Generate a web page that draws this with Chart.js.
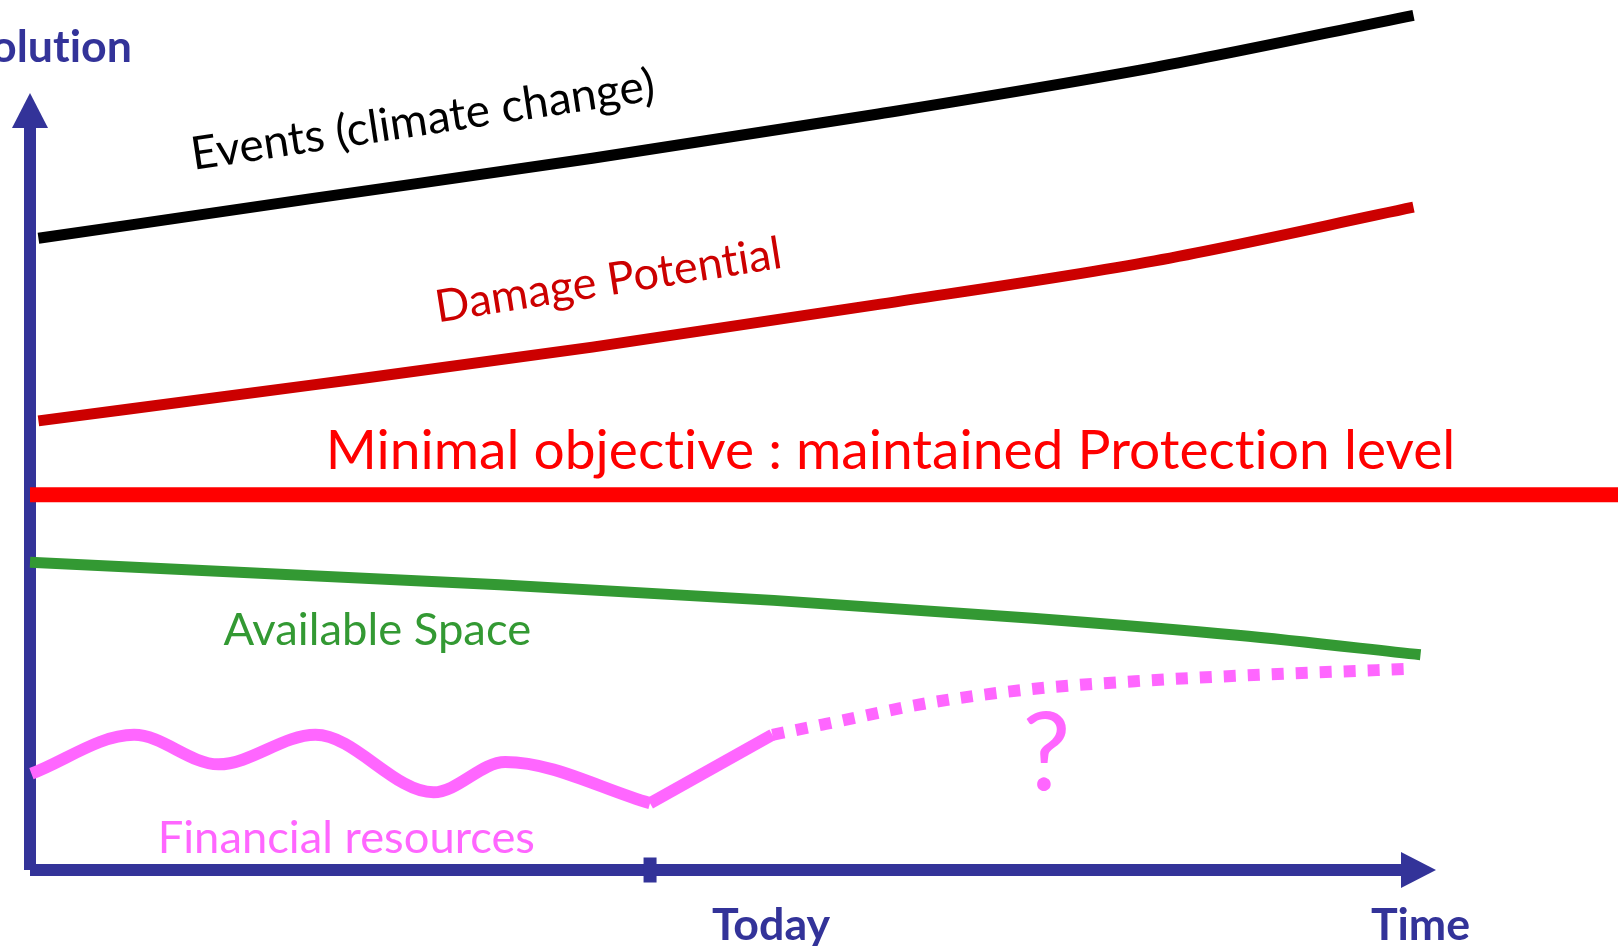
<!DOCTYPE html>
<html>
<head>
<meta charset="utf-8">
<script src="https://cdn.jsdelivr.net/npm/chart.js@4.4.1/dist/chart.umd.min.js"></script>
<style>
  html, body { margin: 0; padding: 0; background: #ffffff; overflow: hidden; }
  canvas { display: block; font-variant-ligatures: none; }
</style>
</head>
<body>
<canvas id="chart" width="1618" height="946"></canvas>
<script>
// Time runs 0..100 from the origin to the tip of the time arrow;
// the level axis runs 0..100 from the time axis to the tip of its arrow.
const TODAY = 44.1;

const eventsX = [0.6, 20, 40, 60, 80, 98.4];
const eventsY = [81.3, 86.4, 91.6, 97.2, 103.3, 110.0];

const damageX = [0.6, 20, 40, 60, 80, 98.4];
const damageY = [57.8, 62.4, 67.3, 72.7, 78.4, 85.3];

const protectionX = [0, 113];
const protectionY = [48.3, 48.3];

const spaceX = [0, 33.4, 52.9, 71.3, 85.9, 98.9];
const spaceY = [39.6, 36.7, 34.7, 32.4, 30.2, 27.7];

const financeX = [0.1, 7.4, 13.4, 20.3, 28.7, 33.8, TODAY];
const financeY = [12.4, 17.4, 13.6, 17.4, 10.0, 13.9, 8.6];

const reboundX = [TODAY, 52.8];
const reboundY = [8.6, 17.4];

const outlookX = [52.8, 56.6, 63.9, 71.3, 78.6, 85.9, 98.3];
const outlookY = [17.4, 18.8, 21.5, 23.3, 24.3, 25.0, 25.9];

const NAVY = '#333399';
const PINK = '#ff66ff';
const GREEN = '#339933';
const DARK_RED = '#cc0000';
const RED = '#ff0000';
const FONT = 'Lato, "Open Sans", sans-serif';

const pts = (xs, ys) => xs.map((x, i) => ({ x, y: ys[i] }));

function line(data, color, width, extra) {
  return Object.assign({
    data, borderColor: color, borderWidth: width, fill: false,
    pointRadius: 0, clip: false, borderCapStyle: 'butt', borderJoinStyle: 'miter',
    cubicInterpolationMode: 'monotone'
  }, extra || {});
}

// Text drawn along the curves, in axis units
const labels = [
  { text: 'Evolution', x: 7.25, y: 104.0, align: 'right', weight: 'bold', color: NAVY, axisFont: true },
  { text: 'Today', x: 52.7, y: -9.0, align: 'center', weight: 'bold', color: NAVY, axisFont: true },
  { text: 'Time', x: 98.9, y: -9.0, align: 'center', weight: 'bold', color: NAVY, axisFont: true },
  { text: 'Events (climate change)', x: 28.1, y: 94.6, align: 'center', weight: 'normal', color: '#000000', width: 468, rotate: -8.6 },
  { text: 'Damage Potential', x: 41.3, y: 74.0, align: 'center', weight: 'normal', color: DARK_RED, width: 350, rotate: -9 },
  { text: 'Minimal objective : maintained Protection level', x: 61.2, y: 51.6, align: 'center', weight: 'normal', color: RED, width: 1130 },
  { text: 'Available Space', x: 24.7, y: 29.0, align: 'center', weight: 'normal', color: GREEN, width: 308 },
  { text: 'Financial resources', x: 22.5, y: 2.2, align: 'center', weight: 'normal', color: PINK, width: 377 },
  { text: '?', x: 72.3, y: 10.3, align: 'center', weight: 'normal', color: PINK, size: 108 }
];

function setFont(ctx, weight, size) {
  ctx.font = weight + ' ' + size.toFixed(1) + 'px ' + FONT;
  // a hair of tracking keeps "ti" from joining into a ligature
  if ('letterSpacing' in ctx) ctx.letterSpacing = '0.01px';
}

function fitSize(ctx, text, weight, width) {
  setFont(ctx, weight, 100);
  return 100 * width / ctx.measureText(text).width;
}

const arrowAxes = {
  id: 'arrowAxes',
  beforeDatasetsDraw(chart) {
    const { ctx, scales: { x, y } } = chart;
    const x0 = x.getPixelForValue(0), y0 = y.getPixelForValue(0);
    const xEnd = x.getPixelForValue(100), yEnd = y.getPixelForValue(100);
    const w = 12, head = 35, half = 18;
    ctx.save();
    ctx.fillStyle = NAVY;
    // level axis with arrow
    ctx.fillRect(x0 - w / 2, yEnd + head - 1, w, y0 - (yEnd + head - 1));
    ctx.beginPath();
    ctx.moveTo(x0, yEnd);
    ctx.lineTo(x0 + half, yEnd + head);
    ctx.lineTo(x0 - half, yEnd + head);
    ctx.closePath();
    ctx.fill();
    // time axis with arrow
    ctx.fillRect(x0, y0 - w / 2, xEnd - head + 1 - x0, w);
    ctx.beginPath();
    ctx.moveTo(xEnd, y0);
    ctx.lineTo(xEnd - head, y0 - half);
    ctx.lineTo(xEnd - head, y0 + half);
    ctx.closePath();
    ctx.fill();
    // "today" tick
    const xt = x.getPixelForValue(TODAY);
    ctx.fillRect(xt - 6.5, y0 - 12.5, 13, 25);
    ctx.restore();
  }
};

const textLabels = {
  id: 'textLabels',
  afterDatasetsDraw(chart) {
    const { ctx, scales: { x, y } } = chart;
    ctx.save();
    const axisSize = fitSize(ctx, 'Today', 'bold', 118);
    labels.forEach(l => {
      let size = l.size;
      if (l.axisFont) size = axisSize;
      else if (l.width) size = fitSize(ctx, l.text, l.weight, l.width);
      ctx.save();
      ctx.translate(x.getPixelForValue(l.x), y.getPixelForValue(l.y));
      if (l.rotate) ctx.rotate(l.rotate * Math.PI / 180);
      setFont(ctx, l.weight, size);
      ctx.fillStyle = l.color;
      ctx.textAlign = l.align;
      ctx.textBaseline = 'alphabetic';
      ctx.fillText(l.text, 0, 0);
      ctx.restore();
    });
    ctx.restore();
  }
};

new Chart(document.getElementById('chart'), {
  type: 'line',
  data: {
    datasets: [
      line(pts(eventsX, eventsY), '#000000', 11),
      line(pts(damageX, damageY), DARK_RED, 11),
      line(pts(protectionX, protectionY), RED, 15, { cubicInterpolationMode: 'default', tension: 0 }),
      line(pts(spaceX, spaceY), GREEN, 11),
      line(pts(financeX, financeY), PINK, 12),
      line(pts(reboundX, reboundY), PINK, 12, { cubicInterpolationMode: 'default', tension: 0 }),
      line(pts(outlookX, outlookY), PINK, 12, { borderDash: [12, 12] })
    ]
  },
  options: {
    responsive: false,
    animation: false,
    devicePixelRatio: 1,
    layout: { padding: { left: 30, right: 182, top: 93, bottom: 76 } },
    plugins: { legend: { display: false }, tooltip: { enabled: false } },
    scales: {
      x: { type: 'linear', display: false, min: 0, max: 100 },
      y: { type: 'linear', display: false, min: 0, max: 100 }
    }
  },
  plugins: [arrowAxes, textLabels]
});
</script>
</body>
</html>
